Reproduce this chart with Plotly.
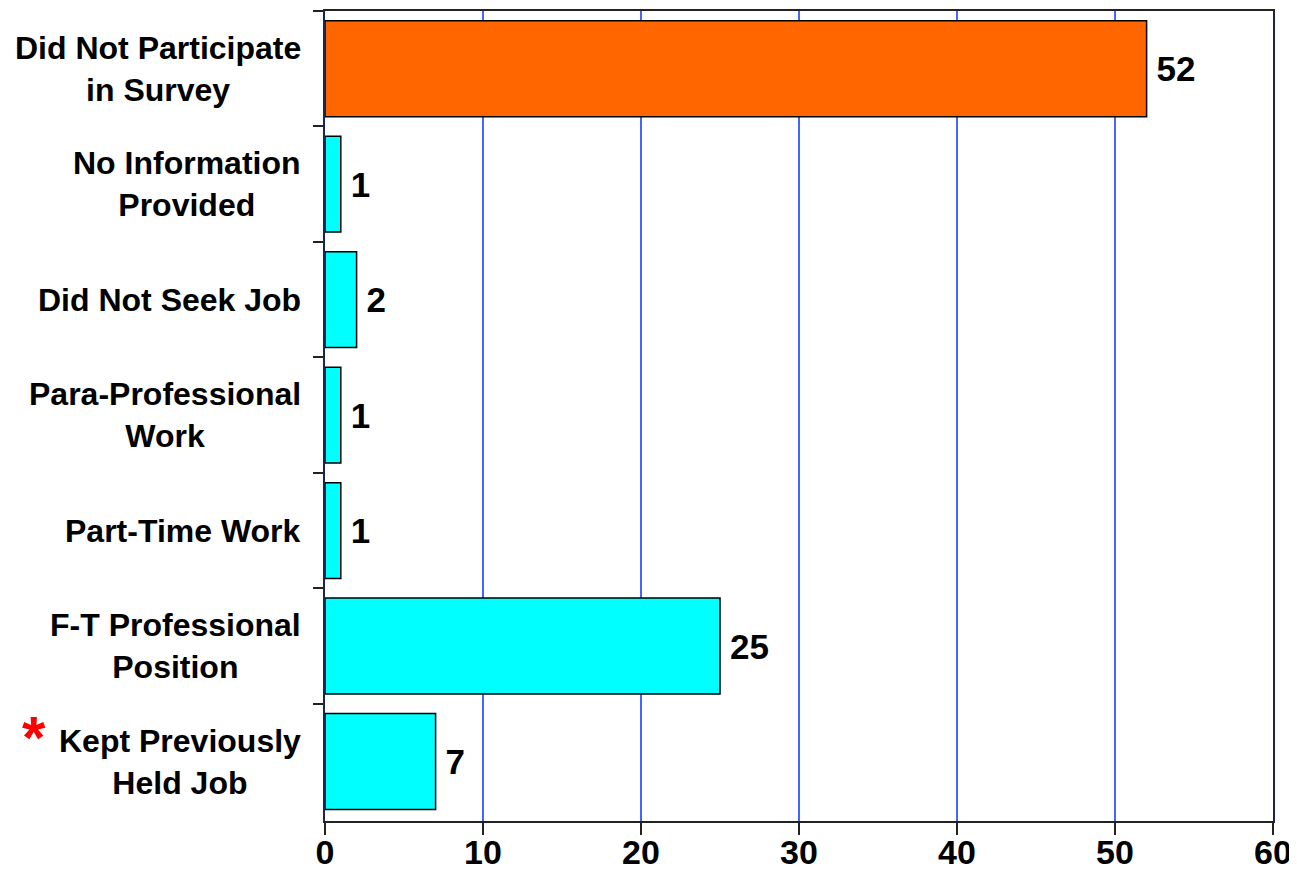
import plotly.graph_objects as go

# categories listed top to bottom
cats = ["Did Not Participate<br>in Survey", "No Information<br>Provided", "Did Not Seek Job",
        "Para-Professional<br>Work", "Part-Time Work", "F-T Professional<br>Position",
        "Kept Previously<br>Held Job"]
counts = [52, 1, 2, 1, 1, 25, 7]
colors = ["#FF6600", "#00FFFF", "#00FFFF", "#00FFFF", "#00FFFF", "#00FFFF", "#00FFFF"]
x_ticks = [0, 10, 20, 30, 40, 50, 60]

fnt = "Liberation Sans, Arial, sans-serif"

fig = go.Figure(go.Bar(
    y=cats, x=counts, orientation="h",
    marker=dict(color=colors, line=dict(color="black", width=1.5)),
    width=0.83,
    text=[str(v) for v in counts], textposition="outside",
    textfont=dict(family=fnt, size=35, color="black"),
    texttemplate="<b>\u2009%{text}</b>", cliponaxis=False,
))

# left labels as annotations so the lines are centered
for c in cats:
    fig.add_annotation(x=0, xref="paper", y=c, yref="y", text="<b>" + c + "</b>",
                       xanchor="right", xshift=-22, align="center", showarrow=False,
                       font=dict(family=fnt, size=32, color="black"))

fig.add_annotation(x=0, xref="paper", y=cats[-1], yref="y", text="<b>*</b>",
                   xanchor="center", xshift=-291, yshift=24, showarrow=False,
                   font=dict(family=fnt, size=60, color="red"))

# page body adds 8px margin, so the figure is a bit smaller than the window
fig.update_layout(
    width=1289, height=887,
    margin=dict(l=317, r=24, t=1, b=74),
    plot_bgcolor="white", paper_bgcolor="white",
    showlegend=False,
    xaxis=dict(range=[0, 60], tickvals=x_ticks, showgrid=True, gridcolor="#4466FF", gridwidth=1.5,
               zeroline=False, showline=True, linecolor="#222222", linewidth=2, mirror=True,
               ticks="outside", ticklen=12, tickcolor="#222222", tickwidth=2,
               ticklabelstandoff=-12,
               tickfont=dict(family=fnt, size=34, color="black", weight="bold")),
    yaxis=dict(categoryorder="array", categoryarray=cats, autorange="reversed",
               showticklabels=False, tickson="boundaries", ticks="outside", ticklen=10,
               tickcolor="#222222", tickwidth=2, showline=True, linecolor="#1a2550",
               linewidth=2, mirror=True, showgrid=False),
)

fig.write_html("out.html")
